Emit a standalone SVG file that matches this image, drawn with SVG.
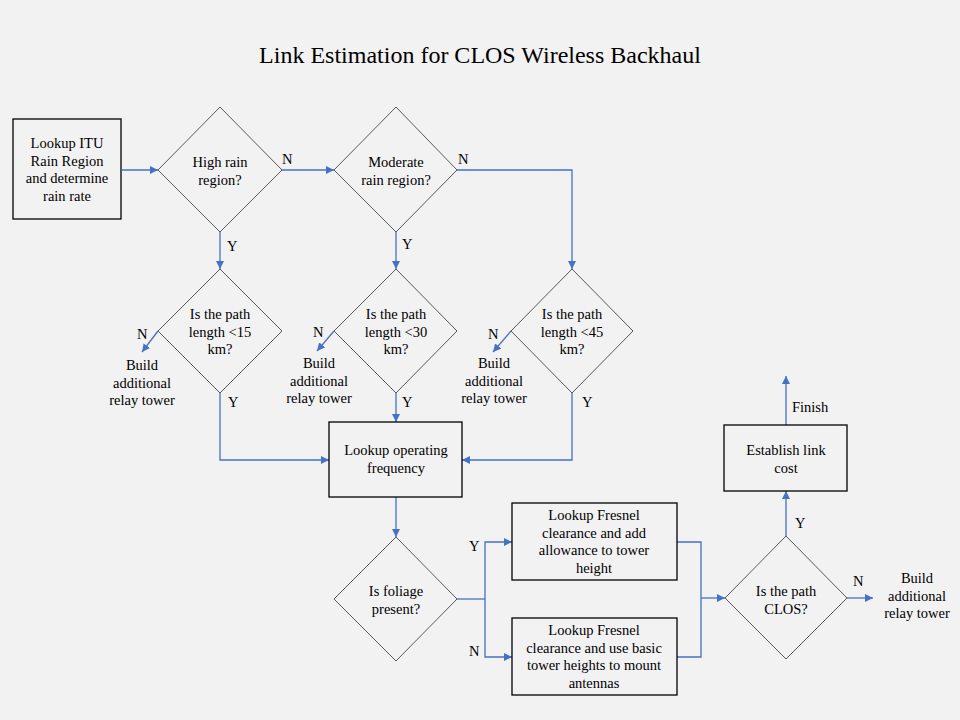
<svg xmlns="http://www.w3.org/2000/svg" width="960" height="720" viewBox="0 0 960 720" font-family="'Liberation Serif', 'DejaVu Serif', serif">
<defs>
<marker id="ah" viewBox="0 0 10 10" refX="10" refY="5" markerWidth="8" markerHeight="8" markerUnits="userSpaceOnUse" orient="auto">
<path d="M0,0 L10,5 L0,10 z" fill="#4472c4"/>
</marker>
<style>
text{font-family:'Liberation Serif','DejaVu Serif',serif;font-size:14.5px;fill:#000;text-anchor:middle}
.title{font-size:24px}
.box{fill:#f2f2f2;stroke:#000;stroke-width:1.3}
.dia{fill:#f2f2f2;stroke:#595959;stroke-width:1}
.c{fill:none;stroke:#4472c4;stroke-width:1.3;marker-end:url(#ah)}
.cn{fill:none;stroke:#4472c4;stroke-width:1.3}
.lbl{text-anchor:start}
</style>
</defs>
<rect width="960" height="720" fill="#f2f2f2"/>
<text class="title" x="480" y="63">Link Estimation for CLOS Wireless Backhaul</text>

<g id="connectors">
<path class="c" d="M122,170 H158"/>
<path class="c" d="M282,170 H334"/>
<path class="c" d="M457,170 H572 V269"/>
<path class="c" d="M220,232 V269"/>
<path class="c" d="M396,232 V269"/>
<path class="c" d="M158,331 L142,352"/>
<path class="c" d="M334,331 L317,351"/>
<path class="c" d="M511,331 L493,352"/>
<path class="c" d="M220,393 V460 H329"/>
<path class="c" d="M396,393 V422"/>
<path class="c" d="M572,393 V460 H462"/>
<path class="c" d="M396,497 V537"/>
<path class="cn" d="M457,599 H485"/>
<path class="c" d="M485,599 V542 H512"/>
<path class="c" d="M485,599 V657 H512"/>
<path class="cn" d="M677,542 H701 V657 H677"/>
<path class="c" d="M701,598 H725"/>
<path class="c" d="M847,598 H873"/>
<path class="c" d="M786,536 V491"/>
<path class="c" d="M786,425 V376"/>
<text class="lbl" x="282" y="164">N</text>
<text class="lbl" x="458" y="164">N</text>
<text class="lbl" x="227" y="251">Y</text>
<text class="lbl" x="402" y="249">Y</text>
<text class="lbl" x="137" y="339">N</text>
<text class="lbl" x="313" y="337">N</text>
<text class="lbl" x="488" y="339">N</text>
<text class="lbl" x="228" y="407">Y</text>
<text class="lbl" x="402" y="407">Y</text>
<text class="lbl" x="582" y="407">Y</text>
<text class="lbl" x="469" y="551">Y</text>
<text class="lbl" x="469" y="656">N</text>
<text class="lbl" x="853" y="586">N</text>
<text class="lbl" x="795" y="528">Y</text>
<text class="lbl" x="792" y="412">Finish</text>
</g>

<g id="n1">
<rect class="box" x="13" y="119" width="108" height="100"/>
<text x="67" y="148">Lookup ITU</text>
<text x="67" y="166">Rain Region</text>
<text x="67" y="183">and determine</text>
<text x="67" y="201">rain rate</text>
</g>
<g id="d1">
<path class="dia" d="M220,107 L282,170 L220,232 L158,170 z"/>
<text x="220" y="167">High rain</text>
<text x="220" y="185">region?</text>
</g>
<g id="d2">
<path class="dia" d="M396,107 L457,170 L396,232 L334,170 z"/>
<text x="396" y="167">Moderate</text>
<text x="396" y="185">rain region?</text>
</g>
<g id="d3">
<path class="dia" d="M220,269 L282,331 L220,393 L158,331 z"/>
<text x="220" y="319">Is the path</text>
<text x="220" y="337">length &lt;15</text>
<text x="220" y="354">km?</text>
</g>
<g id="d4">
<path class="dia" d="M396,269 L457,331 L396,393 L334,331 z"/>
<text x="396" y="319">Is the path</text>
<text x="396" y="337">length &lt;30</text>
<text x="396" y="354">km?</text>
</g>
<g id="d5">
<path class="dia" d="M572,269 L633,331 L572,393 L511,331 z"/>
<text x="572" y="319">Is the path</text>
<text x="572" y="337">length &lt;45</text>
<text x="572" y="354">km?</text>
</g>
<g id="t1">
<text x="142" y="370">Build</text>
<text x="142" y="388">additional</text>
<text x="142" y="405">relay tower</text>
</g>
<g id="t2">
<text x="319" y="368">Build</text>
<text x="319" y="386">additional</text>
<text x="319" y="403">relay tower</text>
</g>
<g id="t3">
<text x="494" y="368">Build</text>
<text x="494" y="386">additional</text>
<text x="494" y="403">relay tower</text>
</g>
<g id="n2">
<rect class="box" x="329" y="422" width="133" height="75"/>
<text x="396" y="455">Lookup operating</text>
<text x="396" y="473">frequency</text>
</g>
<g id="d6">
<path class="dia" d="M396,537 L457,599 L396,661 L334,599 z"/>
<text x="396" y="596">Is foliage</text>
<text x="396" y="614">present?</text>
</g>
<g id="n3">
<rect class="box" x="512" y="503" width="165" height="77"/>
<text x="594" y="520">Lookup Fresnel</text>
<text x="594" y="538">clearance and add</text>
<text x="594" y="555">allowance to tower</text>
<text x="594" y="573">height</text>
</g>
<g id="n4">
<rect class="box" x="512" y="618" width="165" height="77"/>
<text x="594" y="635">Lookup Fresnel</text>
<text x="594" y="653">clearance and use basic</text>
<text x="594" y="670">tower heights to mount</text>
<text x="594" y="688">antennas</text>
</g>
<g id="d7">
<path class="dia" d="M786,536 L847,598 L786,659 L725,598 z"/>
<text x="786" y="596">Is the path</text>
<text x="786" y="614">CLOS?</text>
</g>
<g id="t4">
<text x="917" y="583">Build</text>
<text x="917" y="601">additional</text>
<text x="917" y="618">relay tower</text>
</g>
<g id="n5">
<rect class="box" x="724" y="425" width="123" height="66"/>
<text x="786" y="455">Establish link</text>
<text x="786" y="473">cost</text>
</g>
</svg>
